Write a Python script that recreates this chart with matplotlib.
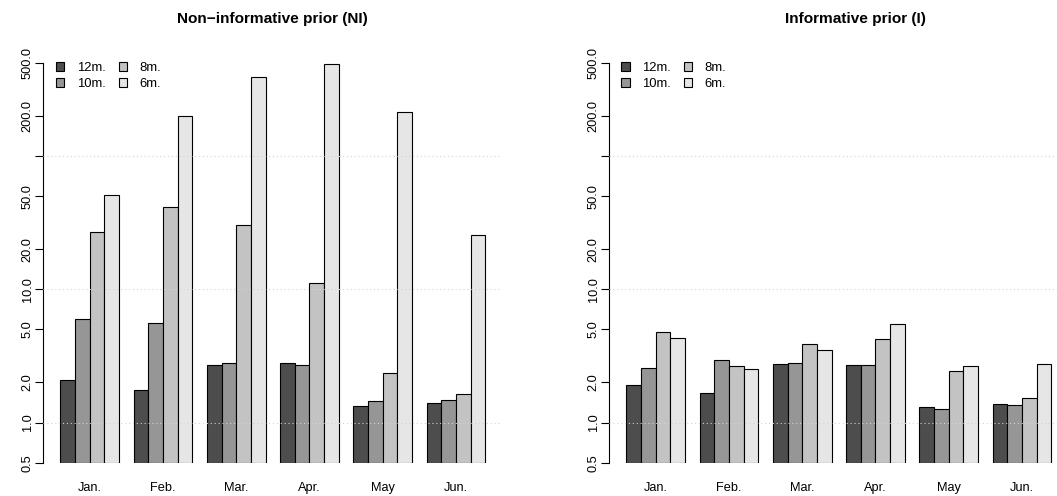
import matplotlib
matplotlib.use("Agg")
import matplotlib.pyplot as plt
from matplotlib.patches import Patch
import numpy as np

plt.rcParams['font.family'] = ['Liberation Sans', 'DejaVu Sans']

months = ["Jan.", "Feb.", "Mar.", "Apr.", "May", "Jun."]
series = ["12m.", "10m.", "8m.", "6m."]
colors = ["#4D4D4D", "#969696", "#C3C3C3", "#E6E6E6"]

# Non-informative prior (NI)
ni_12 = [2.08, 1.77, 2.71, 2.79, 1.34, 1.41]
ni_10 = [6.03, 5.62, 2.80, 2.72, 1.44, 1.47]
ni_8 = [26.8, 41.3, 30.3, 11.2, 2.35, 1.64]
ni_6 = [51.3, 200.0, 390.0, 488.0, 215.0, 25.6]

# Informative prior (I)
i_12 = [1.91, 1.68, 2.74, 2.72, 1.30, 1.38]
i_10 = [2.57, 2.94, 2.79, 2.71, 1.27, 1.36]
i_8 = [4.77, 2.66, 3.92, 4.22, 2.43, 1.52]
i_6 = [4.32, 2.51, 3.51, 5.50, 2.68, 2.76]

yticks = [0.5, 1, 2, 5, 10, 20, 50, 100, 200, 500]
ytick_labels = ["0.5", "1.0", "2.0", "5.0", "10.0", "20.0", "50.0", "", "200.0", "500.0"]
grid_levels = [1, 10, 100]
base = 0.5

titles = ["Non\u2212informative prior (NI)", "Informative prior (I)"]

W, H = 1057, 496
fig = plt.figure(figsize=(W / 100, H / 100), dpi=100)

def px_x(p):
    return p / W

def px_y(p):
    return 1 - p / H

ax_w = 459.1 / W
ax_bottom = px_y(462.7)
ax_h = (462.7 - 50) / H
ytop = 10 ** ((422.7 - 50) / 133.3)

panels = [
    (43.3, [ni_12, ni_10, ni_8, ni_6], 272.5, 55.7),
    (609.3, [i_12, i_10, i_8, i_6], 855.0, 621.0),
]

for k, (axx, data, title_x, leg_x) in enumerate(panels):
    ax = fig.add_axes([px_x(axx), ax_bottom, ax_w, ax_h])
    ax.set_yscale('log')
    ngroups = len(months)
    nser = len(series)
    for j in range(nser):
        lefts = [1 + (nser + 1) * g + j for g in range(ngroups)]
        vals = np.array(data[j])
        ax.bar(lefts, vals - base, bottom=base, width=1.0, align='edge',
               color=colors[j], edgecolor='black', linewidth=0.8, zorder=2)
    for gl in grid_levels:
        ax.axhline(gl, color='#d3d3d3', linestyle=(0, (1, 2.5)), linewidth=0.8, zorder=3)
    ax.set_xlim(-0.16, 31.16)
    ax.set_ylim(base, ytop)
    ax.minorticks_off()
    ax.set_yticks(yticks)
    ax.set_yticklabels(ytick_labels, rotation=90, va='center', fontsize=9.2)
    ax.tick_params(axis='y', length=5.5, width=0.8, pad=1.5, color='black')
    centers = [1 + (nser + 1) * g + nser / 2 for g in range(ngroups)]
    ax.set_xticks(centers)
    ax.set_xticklabels(months, fontsize=9.2)
    ax.tick_params(axis='x', length=0, pad=14)
    for s in ['top', 'right', 'bottom']:
        ax.spines[s].set_visible(False)
    ax.spines['left'].set_bounds(0.5, 500)
    ax.spines['left'].set_linewidth(0.8)
    ax.set_facecolor('none')

    handles = [Patch(facecolor=c, edgecolor='black', linewidth=0.8) for c in colors]
    ax.legend(handles, series, loc='upper left', ncol=2, frameon=False,
              bbox_to_anchor=(px_x(leg_x), px_y(62.0)), bbox_transform=fig.transFigure,
              fontsize=9.4, borderpad=0, borderaxespad=0, labelspacing=0.3,
              handlelength=0.66, handleheight=0.62, handletextpad=0.95,
              columnspacing=1.0)

    fig.text(px_x(title_x), px_y(19), titles[k], ha='center', va='center',
             fontsize=11.1, fontweight='bold')

fig.savefig("out.png", dpi=100)
